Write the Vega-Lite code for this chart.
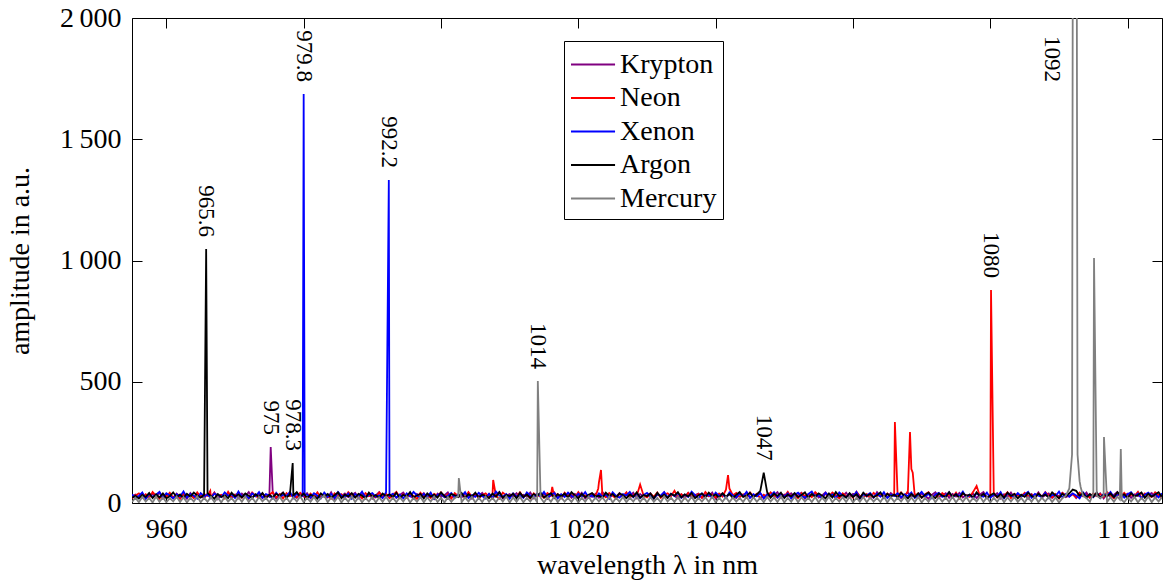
{
"$schema":"https://vega.github.io/schema/vega-lite/v6.json",
"width":1030,"height":485,
"autosize":{"type":"none"},
"padding":{"left":132,"top":18,"right":6,"bottom":80},
"config":{
"view":{"stroke":null},
"font":"Liberation Serif",
"text":{"font":"Liberation Serif"},
"legend":{"labelFont":"Liberation Serif","titleFont":"Liberation Serif"},
"mark":{"invalid":"filter"},
"axis":{"domainColor":"black","domainWidth":1,"tickColor":"black","tickWidth":1,"tickSize":-10,"grid":false,"labelFont":"Liberation Serif","labelFontSize":28,"labelColor":"black","titleFont":"Liberation Serif","titleFontSize":28,"titleFontWeight":"normal","titleColor":"black"}
},
"layer":[
{
"data":{"values":[
{"x":955,"k":28,"n":19,"e":35,"a":22,"m":4},
{"x":955.5,"k":35,"n":31,"e":21,"a":30,"m":22},
{"x":956,"k":22,"n":40,"e":29,"a":18,"m":3},
{"x":956.5,"k":40,"n":24,"e":43,"a":33,"m":25},
{"x":957,"k":19,"n":36,"e":17,"a":25,"m":6},
{"x":957.5,"k":31,"n":21,"e":38,"a":41,"m":21},
{"x":958,"k":37,"n":45,"e":25,"a":20,"m":2},
{"x":958.5,"k":24,"n":29,"e":34,"a":36,"m":27},
{"x":959,"k":43,"n":18,"e":46,"a":23,"m":5},
{"x":959.5,"k":18,"n":38,"e":22,"a":39,"m":23},
{"x":960,"k":29,"n":26,"e":40,"a":19,"m":3},
{"x":960.5,"k":34,"n":42,"e":31,"a":28,"m":20},
{"x":961,"k":21,"n":22,"e":19,"a":44,"m":7},
{"x":961.5,"k":39,"n":35,"e":36,"a":24,"m":26},
{"x":962,"k":26,"n":17,"e":27,"a":35,"m":4},
{"x":962.5,"k":32,"n":39,"e":48,"a":21,"m":24},
{"x":963,"k":17,"n":28,"e":23,"a":38,"m":2},
{"x":963.5,"k":41,"n":33,"e":37,"a":26,"m":22},
{"x":964,"k":23,"n":20,"e":30,"a":43,"m":6},
{"x":964.5,"k":36,"n":44,"e":18,"a":31,"m":28},
{"x":965,"k":30,"n":25,"e":41,"a":22,"m":3},
{"x":965.5,"k":20,"n":37,"e":28,"a":34,"m":21},
{"x":966,"k":38,"n":30,"e":35,"a":40,"m":5},
{"x":966.5,"k":25,"n":23,"e":20,"a":29,"m":25},
{"x":967,"k":44,"n":41,"e":39,"a":18,"m":4},
{"x":967.5,"k":16,"n":27,"e":32,"a":37,"m":23},
{"x":968,"k":33,"n":34,"e":24,"a":25,"m":2},
{"x":968.5,"k":27,"n":19,"e":44,"a":32,"m":26},
{"x":969,"k":42,"n":46,"e":29,"a":20,"m":6},
{"x":969.5,"k":22,"n":24,"e":36,"a":42,"m":20},
{"x":970,"k":35,"n":32,"e":21,"a":27,"m":3},
{"x":970.5,"k":19,"n":40,"e":47,"a":35,"m":24},
{"x":971,"k":39,"n":22,"e":26,"a":23,"m":5},
{"x":971.5,"k":28,"n":36,"e":33,"a":39,"m":27},
{"x":972,"k":45,"n":18,"e":19,"a":30,"m":4},
{"x":972.5,"k":24,"n":43,"e":40,"a":21,"m":22},
{"x":973,"k":31,"n":29,"e":28,"a":36,"m":2},
{"x":973.5,"k":37,"n":21,"e":45,"a":26,"m":25},
{"x":974,"k":20,"n":38,"e":22,"a":41,"m":7},
{"x":974.5,"k":34,"n":26,"e":37,"a":19,"m":21},
{"x":975,"k":26,"n":33,"e":31,"a":34,"m":3},
{"x":975.5,"k":40,"n":45,"e":18,"a":24,"m":23},
{"x":976,"k":18,"n":23,"e":42,"a":38,"m":5},
{"x":976.5,"k":32,"n":37,"e":25,"a":29,"m":26},
{"x":977,"k":43,"n":19,"e":34,"a":43,"m":4},
{"x":977.5,"k":23,"n":41,"e":29,"a":22,"m":22},
{"x":978,"k":36,"n":28,"e":46,"a":36,"m":2},
{"x":978.5,"k":29,"n":35,"e":20,"a":31,"m":24},
{"x":979,"k":21,"n":24,"e":38,"a":45,"m":6},
{"x":979.5,"k":38,"n":42,"e":27,"a":25,"m":28},
{"x":980,"k":27,"n":30,"e":1687,"a":39,"m":3},
{"x":980.5,"k":41,"n":20,"e":35,"a":21,"m":21},
{"x":981,"k":19,"n":39,"e":23,"a":34,"m":5},
{"x":981.5,"k":33,"n":25,"e":40,"a":28,"m":25},
{"x":982,"k":25,"n":44,"e":31,"a":18,"m":4},
{"x":982.5,"k":37,"n":22,"e":19,"a":40,"m":20},
{"x":983,"k":30,"n":34,"e":43,"a":26,"m":31},
{"x":983.5,"k":22,"n":29,"e":26,"a":37,"m":3},
{"x":984,"k":44,"n":18,"e":37,"a":23,"m":23},
{"x":984.5,"k":17,"n":40,"e":21,"a":32,"m":6},
{"x":985,"k":34,"n":27,"e":45,"a":44,"m":26},
{"x":985.5,"k":28,"n":36,"e":30,"a":20,"m":2},
{"x":986,"k":39,"n":21,"e":24,"a":35,"m":22},
{"x":986.5,"k":24,"n":45,"e":39,"a":27,"m":5},
{"x":987,"k":32,"n":31,"e":18,"a":41,"m":27},
{"x":987.5,"k":42,"n":24,"e":36,"a":22,"m":4},
{"x":988,"k":20,"n":37,"e":28,"a":38,"m":24},
{"x":988.5,"k":36,"n":19,"e":47,"a":30,"m":3},
{"x":989,"k":26,"n":41,"e":22,"a":19,"m":21},
{"x":989.5,"k":40,"n":28,"e":34,"a":43,"m":6},
{"x":990,"k":18,"n":34,"e":41,"a":25,"m":25},
{"x":990.5,"k":31,"n":23,"e":25,"a":33,"m":2},
{"x":991,"k":45,"n":43,"e":32,"a":21,"m":23},
{"x":991.5,"k":23,"n":26,"e":20,"a":39,"m":5},
{"x":992,"k":35,"n":38,"e":44,"a":28,"m":26},
{"x":992.5,"k":27,"n":20,"e":29,"a":36,"m":4},
{"x":993,"k":38,"n":32,"e":38,"a":24,"m":22},
{"x":993.5,"k":21,"n":46,"e":23,"a":42,"m":3},
{"x":994,"k":33,"n":25,"e":35,"a":20,"m":24},
{"x":994.5,"k":43,"n":35,"e":19,"a":34,"m":6},
{"x":995,"k":25,"n":22,"e":40,"a":27,"m":27},
{"x":995.5,"k":30,"n":39,"e":27,"a":45,"m":2},
{"x":996,"k":19,"n":29,"e":46,"a":23,"m":21},
{"x":996.5,"k":37,"n":17,"e":31,"a":31,"m":5},
{"x":997,"k":28,"n":42,"e":22,"a":38,"m":25},
{"x":997.5,"k":41,"n":27,"e":37,"a":19,"m":3},
{"x":998,"k":22,"n":33,"e":26,"a":40,"m":23},
{"x":998.5,"k":34,"n":21,"e":43,"a":26,"m":6},
{"x":999,"k":17,"n":38,"e":18,"a":35,"m":26},
{"x":999.5,"k":39,"n":30,"e":34,"a":22,"m":4},
{"x":1000,"k":26,"n":44,"e":39,"a":44,"m":22},
{"x":1000.5,"k":32,"n":24,"e":24,"a":29,"m":2},
{"x":1001,"k":44,"n":36,"e":30,"a":18,"m":24},
{"x":1001.5,"k":20,"n":19,"e":41,"a":37,"m":5},
{"x":1002,"k":36,"n":41,"e":21,"a":32,"m":21},
{"x":1002.5,"k":29,"n":28,"e":36,"a":24,"m":27},
{"x":1003,"k":23,"n":34,"e":28,"a":41,"m":3},
{"x":1003.5,"k":40,"n":23,"e":45,"a":21,"m":23},
{"x":1004,"k":31,"n":45,"e":20,"a":36,"m":6},
{"x":1004.5,"k":18,"n":26,"e":33,"a":27,"m":25},
{"x":1005,"k":35,"n":37,"e":25,"a":43,"m":2},
{"x":1005.5,"k":27,"n":20,"e":42,"a":23,"m":22},
{"x":1006,"k":42,"n":32,"e":29,"a":34,"m":4},
{"x":1006.5,"k":24,"n":40,"e":19,"a":30,"m":26},
{"x":1007,"k":38,"n":25,"e":38,"a":20,"m":5},
{"x":1007.5,"k":21,"n":35,"e":23,"a":39,"m":21},
{"x":1008,"k":33,"n":29,"e":47,"a":26,"m":3},
{"x":1008.5,"k":45,"n":18,"e":31,"a":45,"m":24},
{"x":1009,"k":19,"n":43,"e":26,"a":22,"m":6},
{"x":1009.5,"k":30,"n":31,"e":37,"a":33,"m":27},
{"x":1010,"k":37,"n":22,"e":18,"a":28,"m":2},
{"x":1010.5,"k":25,"n":38,"e":40,"a":38,"m":23},
{"x":1011,"k":41,"n":27,"e":27,"a":19,"m":5},
{"x":1011.5,"k":22,"n":44,"e":35,"a":42,"m":25},
{"x":1012,"k":34,"n":24,"e":21,"a":25,"m":3},
{"x":1012.5,"k":28,"n":36,"e":44,"a":35,"m":21},
{"x":1013,"k":43,"n":19,"e":30,"a":21,"m":6},
{"x":1013.5,"k":20,"n":40,"e":24,"a":37,"m":26},
{"x":1014,"k":36,"n":28,"e":39,"a":29,"m":4},
{"x":1014.5,"k":26,"n":33,"e":28,"a":43,"m":22},
{"x":1015,"k":39,"n":22,"e":46,"a":23,"m":2},
{"x":1015.5,"k":17,"n":41,"e":22,"a":32,"m":24},
{"x":1016,"k":32,"n":30,"e":34,"a":40,"m":5},
{"x":1016.5,"k":44,"n":25,"e":41,"a":20,"m":27},
{"x":1017,"k":23,"n":37,"e":19,"a":36,"m":3},
{"x":1017.5,"k":35,"n":20,"e":36,"a":27,"m":23},
{"x":1018,"k":29,"n":43,"e":25,"a":39,"m":6},
{"x":1018.5,"k":40,"n":29,"e":43,"a":22,"m":21},
{"x":1019,"k":21,"n":35,"e":30,"a":45,"m":4},
{"x":1019.5,"k":37,"n":23,"e":21,"a":31,"m":25},
{"x":1020,"k":27,"n":45,"e":38,"a":19,"m":2},
{"x":1020.5,"k":42,"n":26,"e":27,"a":38,"m":22},
{"x":1021,"k":18,"n":32,"e":45,"a":24,"m":5},
{"x":1021.5,"k":33,"n":21,"e":23,"a":34,"m":26},
{"x":1022,"k":25,"n":39,"e":33,"a":41,"m":3},
{"x":1022.5,"k":38,"n":28,"e":20,"a":26,"m":23},
{"x":1023,"k":22,"n":85,"e":40,"a":30,"m":6},
{"x":1023.5,"k":45,"n":34,"e":26,"a":21,"m":24},
{"x":1024,"k":30,"n":24,"e":35,"a":43,"m":4},
{"x":1024.5,"k":19,"n":41,"e":18,"a":29,"m":27},
{"x":1025,"k":36,"n":30,"e":44,"a":37,"m":2},
{"x":1025.5,"k":26,"n":19,"e":29,"a":23,"m":21},
{"x":1026,"k":41,"n":37,"e":22,"a":40,"m":5},
{"x":1026.5,"k":24,"n":27,"e":37,"a":32,"m":25},
{"x":1027,"k":34,"n":44,"e":31,"a":20,"m":3},
{"x":1027.5,"k":29,"n":22,"e":46,"a":35,"m":22},
{"x":1028,"k":43,"n":35,"e":24,"a":26,"m":6},
{"x":1028.5,"k":20,"n":29,"e":39,"a":44,"m":26},
{"x":1029,"k":37,"n":76,"e":20,"a":22,"m":4},
{"x":1029.5,"k":25,"n":31,"e":33,"a":33,"m":23},
{"x":1030,"k":32,"n":23,"e":42,"a":28,"m":2},
{"x":1030.5,"k":40,"n":38,"e":27,"a":39,"m":24},
{"x":1031,"k":18,"n":26,"e":19,"a":19,"m":5},
{"x":1031.5,"k":35,"n":43,"e":36,"a":42,"m":21},
{"x":1032,"k":28,"n":21,"e":30,"a":25,"m":3},
{"x":1032.5,"k":44,"n":34,"e":45,"a":34,"m":27},
{"x":1033,"k":22,"n":40,"e":23,"a":21,"m":6},
{"x":1033.5,"k":38,"n":28,"e":38,"a":38,"m":22},
{"x":1034,"k":30,"n":50,"e":28,"a":30,"m":4},
{"x":1034.5,"k":19,"n":24,"e":41,"a":45,"m":25},
{"x":1035,"k":36,"n":36,"e":21,"a":23,"m":2},
{"x":1035.5,"k":26,"n":20,"e":34,"a":36,"m":23},
{"x":1036,"k":42,"n":42,"e":25,"a":27,"m":5},
{"x":1036.5,"k":23,"n":30,"e":47,"a":41,"m":26},
{"x":1037,"k":33,"n":25,"e":32,"a":20,"m":3},
{"x":1037.5,"k":39,"n":37,"e":18,"a":32,"m":21},
{"x":1038,"k":21,"n":22,"e":40,"a":39,"m":6},
{"x":1038.5,"k":34,"n":45,"e":26,"a":24,"m":24},
{"x":1039,"k":27,"n":29,"e":35,"a":43,"m":4},
{"x":1039.5,"k":43,"n":35,"e":22,"a":28,"m":27},
{"x":1040,"k":18,"n":23,"e":43,"a":35,"m":2},
{"x":1040.5,"k":31,"n":39,"e":29,"a":22,"m":22},
{"x":1041,"k":40,"n":27,"e":37,"a":40,"m":5},
{"x":1041.5,"k":25,"n":55,"e":20,"a":26,"m":25},
{"x":1042,"k":36,"n":60,"e":44,"a":37,"m":3},
{"x":1042.5,"k":29,"n":32,"e":31,"a":21,"m":23},
{"x":1043,"k":20,"n":41,"e":24,"a":34,"m":6},
{"x":1043.5,"k":38,"n":24,"e":39,"a":45,"m":21},
{"x":1044,"k":27,"n":36,"e":28,"a":25,"m":4},
{"x":1044.5,"k":44,"n":21,"e":46,"a":31,"m":26},
{"x":1045,"k":23,"n":43,"e":21,"a":42,"m":2},
{"x":1045.5,"k":34,"n":28,"e":36,"a":23,"m":24},
{"x":1046,"k":30,"n":38,"e":27,"a":36,"m":5},
{"x":1046.5,"k":41,"n":19,"e":41,"a":50,"m":22},
{"x":1047,"k":19,"n":34,"e":19,"a":125,"m":3},
{"x":1047.5,"k":37,"n":25,"e":34,"a":45,"m":25},
{"x":1048,"k":26,"n":44,"e":30,"a":22,"m":6},
{"x":1048.5,"k":32,"n":30,"e":45,"a":38,"m":23},
{"x":1049,"k":45,"n":22,"e":23,"a":29,"m":4},
{"x":1049.5,"k":21,"n":39,"e":38,"a":43,"m":27},
{"x":1050,"k":35,"n":27,"e":26,"a":20,"m":2},
{"x":1050.5,"k":28,"n":46,"e":40,"a":35,"m":21},
{"x":1051,"k":40,"n":23,"e":18,"a":27,"m":5},
{"x":1051.5,"k":24,"n":33,"e":33,"a":41,"m":26},
{"x":1052,"k":33,"n":20,"e":43,"a":24,"m":3},
{"x":1052.5,"k":42,"n":41,"e":29,"a":33,"m":24},
{"x":1053,"k":18,"n":29,"e":22,"a":44,"m":6},
{"x":1053.5,"k":36,"n":36,"e":37,"a":21,"m":22},
{"x":1054,"k":29,"n":24,"e":47,"a":37,"m":4},
{"x":1054.5,"k":39,"n":45,"e":25,"a":26,"m":25},
{"x":1055,"k":22,"n":31,"e":32,"a":40,"m":2},
{"x":1055.5,"k":31,"n":21,"e":20,"a":30,"m":23},
{"x":1056,"k":44,"n":38,"e":42,"a":19,"m":5},
{"x":1056.5,"k":25,"n":26,"e":28,"a":39,"m":27},
{"x":1057,"k":37,"n":43,"e":36,"a":23,"m":3},
{"x":1057.5,"k":20,"n":32,"e":21,"a":45,"m":21},
{"x":1058,"k":34,"n":19,"e":44,"a":28,"m":6},
{"x":1058.5,"k":27,"n":40,"e":30,"a":34,"m":24},
{"x":1059,"k":43,"n":28,"e":24,"a":22,"m":4},
{"x":1059.5,"k":23,"n":35,"e":39,"a":41,"m":26},
{"x":1060,"k":38,"n":22,"e":27,"a":25,"m":2},
{"x":1060.5,"k":30,"n":46,"e":46,"a":36,"m":22},
{"x":1061,"k":19,"n":30,"e":19,"a":20,"m":5},
{"x":1061.5,"k":40,"n":24,"e":35,"a":43,"m":25},
{"x":1062,"k":26,"n":37,"e":31,"a":29,"m":3},
{"x":1062.5,"k":35,"n":20,"e":41,"a":37,"m":23},
{"x":1063,"k":21,"n":42,"e":23,"a":24,"m":6},
{"x":1063.5,"k":45,"n":29,"e":38,"a":32,"m":21},
{"x":1064,"k":28,"n":34,"e":26,"a":44,"m":4},
{"x":1064.5,"k":33,"n":23,"e":45,"a":21,"m":27},
{"x":1065,"k":24,"n":39,"e":20,"a":38,"m":2},
{"x":1065.5,"k":41,"n":27,"e":34,"a":27,"m":24},
{"x":1066,"k":29,"n":35,"e":29,"a":35,"m":5},
{"x":1066.5,"k":37,"n":30,"e":40,"a":23,"m":22},
{"x":1067,"k":20,"n":44,"e":24,"a":42,"m":6},
{"x":1067.5,"k":32,"n":25,"e":36,"a":30,"m":26},
{"x":1068,"k":43,"n":50,"e":28,"a":19,"m":3},
{"x":1068.5,"k":26,"n":140,"e":43,"a":37,"m":23},
{"x":1069,"k":36,"n":28,"e":21,"a":25,"m":4},
{"x":1069.5,"k":22,"n":40,"e":32,"a":40,"m":25},
{"x":1070,"k":39,"n":22,"e":46,"a":22,"m":2},
{"x":1070.5,"k":30,"n":36,"e":27,"a":34,"m":21},
{"x":1071,"k":18,"n":45,"e":38,"a":43,"m":5},
{"x":1071.5,"k":34,"n":26,"e":19,"a":28,"m":27},
{"x":1072,"k":44,"n":33,"e":35,"a":20,"m":3},
{"x":1072.5,"k":25,"n":21,"e":42,"a":39,"m":24},
{"x":1073,"k":31,"n":41,"e":25,"a":31,"m":6},
{"x":1073.5,"k":40,"n":29,"e":31,"a":24,"m":22},
{"x":1074,"k":21,"n":35,"e":44,"a":45,"m":4},
{"x":1074.5,"k":37,"n":24,"e":22,"a":26,"m":26},
{"x":1075,"k":27,"n":43,"e":37,"a":36,"m":2},
{"x":1075.5,"k":42,"n":19,"e":29,"a":21,"m":23},
{"x":1076,"k":23,"n":38,"e":47,"a":41,"m":5},
{"x":1076.5,"k":33,"n":30,"e":23,"a":29,"m":25},
{"x":1077,"k":28,"n":25,"e":34,"a":35,"m":3},
{"x":1077.5,"k":38,"n":46,"e":20,"a":23,"m":21},
{"x":1078,"k":20,"n":70,"e":40,"a":44,"m":6},
{"x":1078.5,"k":35,"n":27,"e":30,"a":27,"m":27},
{"x":1079,"k":45,"n":34,"e":26,"a":38,"m":4},
{"x":1079.5,"k":24,"n":22,"e":43,"a":20,"m":24},
{"x":1080,"k":32,"n":32,"e":21,"a":32,"m":2},
{"x":1080.5,"k":29,"n":40,"e":36,"a":40,"m":22},
{"x":1081,"k":41,"n":23,"e":28,"a":24,"m":5},
{"x":1081.5,"k":19,"n":36,"e":45,"a":36,"m":26},
{"x":1082,"k":36,"n":29,"e":19,"a":22,"m":3},
{"x":1082.5,"k":26,"n":44,"e":39,"a":43,"m":23},
{"x":1083,"k":43,"n":20,"e":32,"a":29,"m":6},
{"x":1083.5,"k":22,"n":38,"e":24,"a":37,"m":25},
{"x":1084,"k":34,"n":31,"e":41,"a":19,"m":4},
{"x":1084.5,"k":30,"n":25,"e":27,"a":34,"m":21},
{"x":1085,"k":39,"n":42,"e":35,"a":25,"m":2},
{"x":1085.5,"k":18,"n":28,"e":46,"a":42,"m":24},
{"x":1086,"k":37,"n":35,"e":22,"a":30,"m":5},
{"x":1086.5,"k":25,"n":21,"e":38,"a":21,"m":27},
{"x":1087,"k":44,"n":39,"e":30,"a":39,"m":3},
{"x":1087.5,"k":23,"n":26,"e":25,"a":27,"m":22},
{"x":1088,"k":32,"n":45,"e":43,"a":35,"m":6},
{"x":1088.5,"k":40,"n":30,"e":20,"a":23,"m":25},
{"x":1089,"k":21,"n":23,"e":34,"a":44,"m":4},
{"x":1089.5,"k":35,"n":37,"e":29,"a":31,"m":23},
{"x":1090,"k":28,"n":19,"e":47,"a":20,"m":2},
{"x":1090.5,"k":42,"n":41,"e":23,"a":38,"m":20},
{"x":1091,"k":24,"n":32,"e":37,"a":28,"m":30},
{"x":1091.5,"k":31,"n":27,"e":26,"a":40,"m":60},
{"x":1092,"k":38,"n":36,"e":40,"a":55,"m":2100},
{"x":1092.5,"k":20,"n":24,"e":31,"a":50,"m":4000},
{"x":1093,"k":36,"n":43,"e":19,"a":30,"m":90},
{"x":1093.5,"k":27,"n":29,"e":44,"a":41,"m":30},
{"x":1094,"k":43,"n":34,"e":28,"a":22,"m":20},
{"x":1094.5,"k":22,"n":22,"e":35,"a":37,"m":5},
{"x":1095,"k":33,"n":40,"e":24,"a":26,"m":40},
{"x":1095.5,"k":29,"n":28,"e":42,"a":43,"m":30},
{"x":1096,"k":40,"n":37,"e":21,"a":21,"m":20},
{"x":1096.5,"k":19,"n":25,"e":38,"a":34,"m":30},
{"x":1097,"k":37,"n":45,"e":30,"a":28,"m":4},
{"x":1097.5,"k":26,"n":31,"e":46,"a":39,"m":24},
{"x":1098,"k":34,"n":20,"e":25,"a":24,"m":5},
{"x":1098.5,"k":45,"n":38,"e":33,"a":45,"m":26},
{"x":1099,"k":23,"n":27,"e":41,"a":30,"m":223},
{"x":1099.5,"k":31,"n":42,"e":22,"a":36,"m":3},
{"x":1100,"k":39,"n":24,"e":36,"a":20,"m":23},
{"x":1100.5,"k":21,"n":35,"e":45,"a":41,"m":6},
{"x":1101,"k":36,"n":29,"e":27,"a":27,"m":25},
{"x":1101.5,"k":28,"n":46,"e":39,"a":33,"m":2},
{"x":1102,"k":42,"n":22,"e":19,"a":43,"m":22},
{"x":1102.5,"k":24,"n":39,"e":34,"a":22,"m":5},
{"x":1103,"k":33,"n":30,"e":43,"a":38,"m":27},
{"x":1103.5,"k":41,"n":25,"e":29,"a":26,"m":3},
{"x":1104,"k":20,"n":44,"e":37,"a":35,"m":23},
{"x":1104.5,"k":35,"n":32,"e":23,"a":44,"m":6},
{"x":1105,"k":27,"n":21,"e":40,"a":24,"m":24},
{"x":965.8,"a":1047},
{"x":966.4,"n":50},
{"x":975.2,"k":231},
{"x":978.4,"a":165},
{"x":979.85,"e":30},
{"x":980.15,"e":32},
{"x":992.4,"e":1332},
{"x":1002.6,"m":103},
{"x":1007.6,"n":95},
{"x":1014.1,"m":503},
{"x":1016.2,"n":66},
{"x":1022.9,"n":60},
{"x":1023.3,"n":136},
{"x":1041.8,"n":115},
{"x":1066.1,"n":334},
{"x":1068.3,"n":293},
{"x":1068.7,"n":125},
{"x":1080.1,"n":878},
{"x":1091.9,"m":200},
{"x":1092.3,"m":6000},
{"x":1092.6,"m":2000},
{"x":1092.7,"m":200},
{"x":1093.15,"m":66},
{"x":1095.1,"m":1010},
{"x":1096.55,"m":272},
{"x":1098.85,"m":15},
{"x":1099.15,"m":12}
]},
"transform":[{"fold":["k","n","e","a","m"],"as":["s","y"]},{"filter":"isValid(datum.y)"}],
"mark":{"type":"line","clip":true,"interpolate":"linear"},
"encoding":{
"x":{"field":"x","type":"quantitative","scale":{"domain":[955,1105],"nice":false,"zero":false},
"axis":{"orient":"bottom","values":[960,980,1000,1020,1040,1060,1080,1100],"labelExpr":"replace(format(datum.value, ','), ',', '\u2009')","labelPadding":22,"title":"wavelength λ in nm","titlePadding":8}},
"y":{"field":"y","type":"quantitative","scale":{"domain":[0,2000],"nice":false,"zero":true},
"axis":{"orient":"left","values":[0,500,1000,1500,2000],"labelExpr":"replace(format(datum.value, ','), ',', '\u2009')","labelPadding":21,"title":"amplitude in a.u.","titlePadding":25}},
"strokeWidth":{"field":"s","type":"ordinal","scale":{"domain":["k","n","e","a","m"],"range":[1.8,1.8,1.8,1.8,2.6]},"legend":null},
"color":{"field":"s","type":"nominal","scale":{"domain":["k","n","e","a","m"],"range":["#800080","#ff0000","#0000ff","#000000","#808080"]},
"legend":{"orient":"none","legendX":432,"legendY":23,"title":null,"strokeColor":"black","fillColor":"white","padding":6,"symbolType":"M-1,0H1.67","symbolSize":1089,"symbolStrokeWidth":2,"labelFont":"Liberation Serif","labelFontSize":28,"labelColor":"black","labelOffset":15,"rowPadding":1.5,
"labelExpr":"datum.label == 'k' ? 'Krypton' : datum.label == 'n' ? 'Neon' : datum.label == 'e' ? 'Xenon' : datum.label == 'a' ? 'Argon' : 'Mercury'"}}
}
},
{
"data":{"values":[
{"lx":965.8,"ly":1047,"t":"965.6"},
{"lx":975.2,"ly":231,"t":"975"},
{"lx":978.4,"ly":165,"t":"978.3"},
{"lx":980.0,"ly":1687,"t":"979.8"},
{"lx":992.4,"ly":1332,"t":"992.2"},
{"lx":1014.1,"ly":503,"t":"1014"},
{"lx":1047.0,"ly":125,"t":"1047"},
{"lx":1080.1,"ly":878,"t":"1080"},
{"lx":1089.0,"ly":1687,"t":"1092"}
]},
"mark":{"type":"text","angle":90,"align":"right","baseline":"middle","dx":-12,"fontSize":23,"font":"Liberation Serif","color":"black"},
"encoding":{
"x":{"field":"lx","type":"quantitative","scale":{"domain":[955,1105],"nice":false,"zero":false},"axis":{"orient":"top","labels":false,"title":null,"values":[960,980,1000,1020,1040,1060,1080,1100]}},
"y":{"field":"ly","type":"quantitative","scale":{"domain":[0,2000],"nice":false,"zero":true},"axis":{"orient":"right","labels":false,"title":null,"values":[0,500,1000,1500,2000]}},
"text":{"field":"t"}
}
}
],
"resolve":{"axis":{"x":"independent","y":"independent"}}
}
